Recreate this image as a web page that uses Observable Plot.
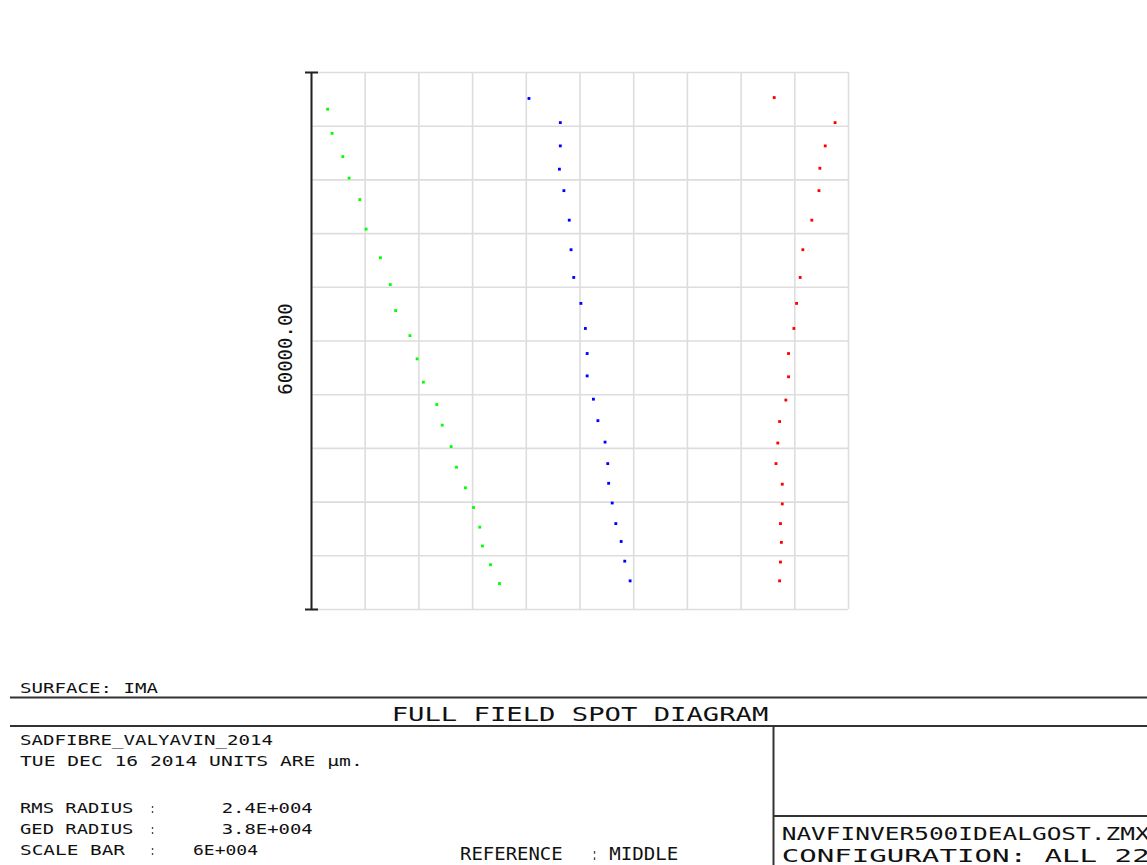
<!DOCTYPE html>
<html>
<head>
<meta charset="utf-8">
<script src="https://cdn.jsdelivr.net/npm/d3@7"></script>
<script src="https://cdn.jsdelivr.net/npm/@observablehq/plot@0.6"></script>
<style>
  html, body { margin: 0; padding: 0; background: #fff; }
  #chart svg, #footer { display: block; }
</style>
</head>
<body>
<div id="chart"></div>
<div id="footer-wrap"></div>
<script>
// ---- Data (µm on the image surface), one entry per configuration (22) ----
const greenX = [-28200,-27700,-26500,-25800,-24600,-23900,-22300,-21200,-20600,-19000,-18200,-17500,-16000,-15400,-14400,-13800,-12800,-11900,-11200,-10900,-10000,-9000];
const greenY = [25900,23200,20600,18200,15800,12500,9300,6300,3400,600,-2000,-4600,-7100,-9400,-11800,-14100,-16400,-18600,-20800,-22900,-25000,-27100];
const blueX  = [-5700,-2200,-2200,-2300,-1800,-1200,-1000,-700,100,600,800,800,1500,2000,2800,3100,3200,3600,4000,4600,5000,5600];
const blueY  = [27100,24400,21800,19200,16800,13500,10200,7100,4200,1400,-1400,-3900,-6500,-8900,-11300,-13700,-15900,-18100,-20400,-22400,-24600,-26800];
const redX   = [21700,28500,27400,26800,26700,25900,24900,24600,24200,23900,23300,23300,23000,22300,22100,21900,22600,22600,22400,22500,22400,22300];
const redY   = [27200,24400,21800,19300,16800,13500,10200,7100,4200,1400,-1400,-4000,-6600,-9000,-11400,-13700,-16000,-18200,-20400,-22500,-24700,-26800];
const seriesColors = ["#00ff00", "#0000ff", "#ff0000"];
const scaleBar = 60000;            // µm, full width of the box
const gridTicks = [-30000,-24000,-18000,-12000,-6000,0,6000,12000,18000,24000,30000];
const scaleLabel = "60000.00";

// footer texts
const surfaceText = "SURFACE: IMA";
const titleText = "FULL FIELD SPOT DIAGRAM";
const lensText = "SADFIBRE_VALYAVIN_2014";
const dateText = "TUE DEC 16 2014  UNITS ARE µm.";
const statLabels = ["RMS RADIUS", "GED RADIUS", "SCALE BAR"];
const statValues = ["2.4E+004", "3.8E+004", "6E+004"];
const referenceLabel = "REFERENCE";
const referenceValue = "MIDDLE";
const fileText = "NAVFINVER500IDEALGOST.ZMX";
const configText = "CONFIGURATION: ALL 22";

// ---- Build table ----
const series = [[greenX, greenY], [blueX, blueY], [redX, redY]];
const spots = series.flatMap(([xs, ys], s) => xs.map((x, i) => ({x, y: ys[i], color: seriesColors[s], config: i + 1})));

const half = scaleBar / 2;
const chart = Plot.plot({
  width: 1147,
  height: 660,
  marginLeft: 311,
  marginRight: 299,
  marginTop: 72,
  marginBottom: 51,
  x: {domain: [-half, half], axis: null},
  y: {domain: [-half, half], axis: null},
  color: {type: "identity"},
  style: {background: "#fff"},
  marks: [
    Plot.gridX(gridTicks, {stroke: "#dddddd", strokeOpacity: 1, strokeWidth: 1.6}),
    Plot.gridY(gridTicks, {stroke: "#dddddd", strokeOpacity: 1, strokeWidth: 1.6}),
    Plot.ruleX([-half], {y1: -half, y2: half, stroke: "#222", strokeWidth: 2}),
    Plot.ruleY([-half, half], {x1: -half, x2: -half, insetLeft: -6, insetRight: -7, stroke: "#222", strokeWidth: 2}),
    Plot.text([scaleLabel], {x: -half, y: 0, text: d => d, rotate: -90, dx: -26, dy: 8,
      fontFamily: "DejaVu Sans Mono", fontSize: 19, fill: "#111", textAnchor: "middle", lineAnchor: "middle"}),
    Plot.dot(spots, {x: "x", y: "y", fill: "color", stroke: null, r: 1.6, symbol: "square"})
  ]
});
document.getElementById("chart").appendChild(chart);

// ---- Footer (title block) ----
const FW = 1147, FH = 205, offsetY = 660;
const svg = d3.select("#footer-wrap").append("svg")
  .attr("id", "footer").attr("width", FW).attr("height", FH)
  .attr("viewBox", `0 0 ${FW} ${FH}`)
  .style("font-family", "'DejaVu Sans Mono', monospace")
  .style("fill", "#111");

function hline(x1, y1, x2, y2) {
  svg.append("line").attr("x1", x1).attr("y1", y1 - offsetY).attr("x2", x2).attr("y2", y2 - offsetY)
    .attr("stroke", "#333").attr("stroke-width", 2);
}
function txt(s, x, baseline, width, size) {
  svg.append("text").attr("x", x).attr("y", baseline - offsetY)
    .attr("font-size", size)
    .attr("textLength", width).attr("lengthAdjust", "spacingAndGlyphs")
    .text(s);
}
hline(10, 697.5, FW, 697.5);
hline(10, 726, FW, 726);
hline(773.5, 726, 773.5, 865);
hline(773.5, 816, FW, 816);

txt(surfaceText, 20, 692.7, 138, 14);
txt(titleText, 391.7, 721, 376.6, 20);
txt(lensText, 20, 745.3, 253, 14);
txt(dateText, 20, 766, 342.7, 14);
const statBase = [812.7, 834, 855.3];
const statValueX = [221.7, 221.7, 193];
const statValueW = [91, 91, 65];
const statLabelW = [113.3, 113.3, 105];
statLabels.forEach((lab, i) => {
  txt(lab, 20, statBase[i], statLabelW[i], 14);
  txt(":", 150, statBase[i], 5, 14);
  txt(statValues[i], statValueX[i], statBase[i], statValueW[i], 14);
});
txt(referenceLabel, 460, 860, 102.7, 18);
txt(":", 592, 860, 5, 18);
txt(referenceValue, 609.3, 860, 69, 18);
txt(fileText, 781.7, 840, 368, 17);
txt(configText, 781.7, 862, 368, 17);
</script>
</body>
</html>
